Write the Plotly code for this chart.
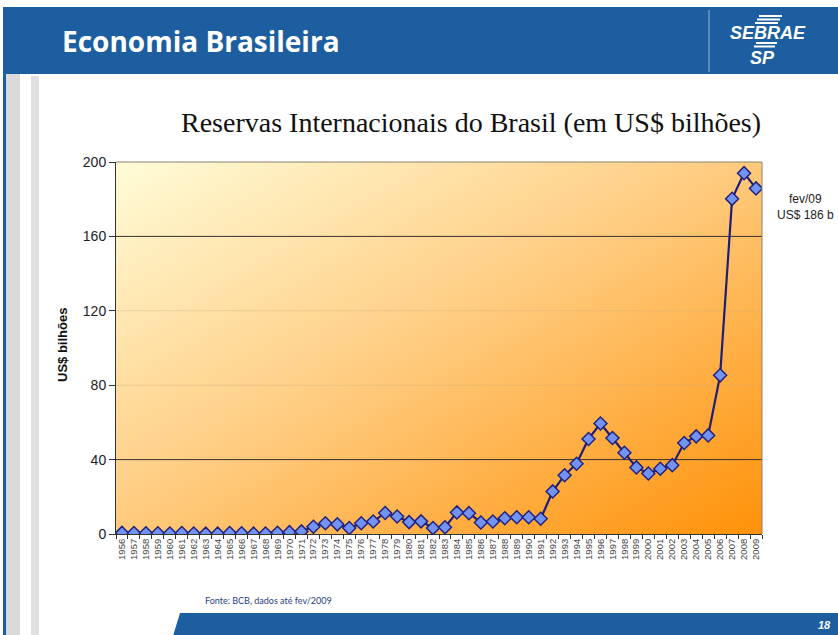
import base64
import plotly.graph_objects as go

# ---------------- data ----------------
years = ["1956", "1957", "1958", "1959", "1960", "1961", "1962", "1963", "1964",
         "1965", "1966", "1967", "1968", "1969", "1970", "1971", "1972", "1973",
         "1974", "1975", "1976", "1977", "1978", "1979", "1980", "1981", "1982",
         "1983", "1984", "1985", "1986", "1987", "1988", "1989", "1990", "1991",
         "1992", "1993", "1994", "1995", "1996", "1997", "1998", "1999", "2000",
         "2001", "2002", "2003", "2004", "2005", "2006", "2007", "2008", "2009"]
reserves = [0.6, 0.5, 0.4, 0.4, 0.3, 0.5, 0.3, 0.2, 0.2,
            0.5, 0.4, 0.2, 0.3, 0.7, 1.0, 1.4, 3.9, 5.8,
            5.2, 3.2, 5.8, 6.7, 11.3, 9.4, 6.4, 6.8, 3.2,
            3.6, 11.6, 11.2, 6.2, 6.7, 8.5, 9.0, 9.0, 8.2,
            22.9, 31.6, 37.8, 51.1, 59.4, 51.6, 43.7, 35.8, 32.5,
            35.1, 37.0, 48.9, 52.5, 53.0, 85.3, 180.2, 194.0, 185.8]
y_ticks = [0, 40, 80, 120, 160, 200]
grid_strong = [40, 160]
grid_faint = [80, 120]

title_text = "Reservas Internacionais do Brasil (em US$ bilhões)"
header_text = "Economia Brasileira"
note_text = "fev/09<br>US$ 186 b"
source_text = "Fonte: BCB, dados até fev/2009"
page_no = "18"

W, H = 838, 635
L, R, T, B = 116, 762, 162, 534


def X(px):
    return (px - L) / (R - L)


def Y(py):
    return (B - py) / (B - T)


BLUE = "#1C5E9F"

# gradient background for plot area (SVG data URI)
svg = (
    '<svg xmlns="http://www.w3.org/2000/svg" width="646" height="372" '
    'preserveAspectRatio="none" viewBox="0 0 646 372">'
    '<defs><linearGradient id="g" x1="0" y1="0" x2="1" y2="1">'
    '<stop offset="0" stop-color="#FFFCD8"/>'
    '<stop offset="0.45" stop-color="#FFCF86"/>'
    '<stop offset="1" stop-color="#FF9108"/>'
    '</linearGradient></defs>'
    '<rect width="646" height="372" fill="url(#g)"/></svg>'
)
svg_uri = "data:image/svg+xml;base64," + base64.b64encode(svg.encode()).decode()

fig = go.Figure()
fig.add_trace(go.Scatter(
    x=years, y=reserves, mode="lines+markers",
    line=dict(color="#1E1E78", width=2.2),
    marker=dict(symbol="diamond", size=10, color="#7393F2",
                line=dict(color="#22227E", width=1.5)),
    hoverinfo="x+y", showlegend=False,
))

shapes = []
# gridlines
for g in grid_strong:
    shapes.append(dict(type="line", xref="paper", yref="y", x0=0, x1=1, y0=g, y1=g,
                       line=dict(color="#3A3030", width=1), layer="below"))
for g in grid_faint:
    shapes.append(dict(type="line", xref="paper", yref="y", x0=0, x1=1, y0=g, y1=g,
                       line=dict(color="rgba(200,170,120,0.35)", width=1), layer="below"))

# header band
shapes.append(dict(type="rect", xref="paper", yref="paper", x0=X(3), x1=X(838),
                   y0=Y(74), y1=Y(7), fillcolor=BLUE, line=dict(width=0), layer="above"))
# left decorative bars
shapes.append(dict(type="rect", xref="paper", yref="paper", x0=X(3), x1=X(6),
                   y0=Y(635), y1=Y(74), fillcolor=BLUE, line=dict(width=0)))
shapes.append(dict(type="rect", xref="paper", yref="paper", x0=X(6), x1=X(20),
                   y0=Y(635), y1=Y(74), fillcolor="#DADADA", line=dict(width=0)))
shapes.append(dict(type="rect", xref="paper", yref="paper", x0=X(31), x1=X(39),
                   y0=Y(635), y1=Y(76), fillcolor="#E0E0E0", line=dict(width=0)))
# header separator
shapes.append(dict(type="line", xref="paper", yref="paper", x0=X(709), x1=X(709),
                   y0=Y(72), y1=Y(10), line=dict(color="rgba(255,255,255,0.55)", width=1)))
# logo bars
for py, a, b in [(16, 759, 782), (19.5, 757, 780), (23, 755, 778),
                 (43, 756, 777), (46.5, 754, 775)]:
    shapes.append(dict(type="line", xref="paper", yref="paper", x0=X(a), x1=X(b),
                       y0=Y(py), y1=Y(py), line=dict(color="white", width=2)))
# footer band
shapes.append(dict(type="path", xref="paper", yref="paper",
                   path=f"M {X(173)},{Y(636)} L {X(180)},{Y(613)} L {X(839)},{Y(613)} "
                        f"L {X(839)},{Y(636)} Z",
                   fillcolor=BLUE, line=dict(width=0)))

annotations = [
    dict(text=header_text, xref="paper", yref="paper", x=X(60), y=Y(41),
         xanchor="left", yanchor="middle", showarrow=False,
         font=dict(family="Open Sans", size=28, color="white", weight="bold")),
    dict(text="<i><b>SEBRAE</b></i>", xref="paper", yref="paper", x=X(768), y=Y(33),
         xanchor="center", yanchor="middle", showarrow=False,
         font=dict(family="Liberation Sans", size=18, color="white")),
    dict(text="<i><b>SP</b></i>", xref="paper", yref="paper", x=X(762), y=Y(58),
         xanchor="center", yanchor="middle", showarrow=False,
         font=dict(family="Liberation Sans", size=18, color="white")),
    dict(text=title_text, xref="paper", yref="paper", x=X(471), y=Y(122),
         xanchor="center", yanchor="middle", showarrow=False,
         font=dict(family="Liberation Serif", size=28, color="#111111")),
    dict(text="<b>US$ bilhões</b>", xref="paper", yref="paper", x=X(62), y=Y(345),
         xanchor="center", yanchor="middle", textangle=-90, showarrow=False,
         font=dict(family="Liberation Sans", size=13, color="#111111")),
    dict(text=note_text, xref="paper", yref="paper", x=X(806), y=Y(207),
         xanchor="center", yanchor="middle", showarrow=False, align="center",
         font=dict(family="Liberation Sans", size=12, color="#222222")),
    dict(text=source_text, xref="paper", yref="paper", x=X(268), y=Y(600),
         xanchor="center", yanchor="middle", showarrow=False,
         font=dict(family="Lato", size=9, color="#1F3F80")),
    dict(text="<i><b>" + page_no + "</b></i>", xref="paper", yref="paper", x=X(824), y=Y(625),
         xanchor="center", yanchor="middle", showarrow=False,
         font=dict(family="Liberation Sans", size=11, color="white")),
]

fig.update_layout(
    width=W, height=H,
    margin=dict(l=L, r=W - R, t=T, b=H - B, pad=0),
    paper_bgcolor="white",
    plot_bgcolor="rgba(0,0,0,0)",
    images=[dict(source=svg_uri, xref="paper", yref="paper", x=0, y=1,
                 sizex=1, sizey=1, sizing="stretch", xanchor="left", yanchor="top",
                 layer="below")],
    shapes=shapes,
    annotations=annotations,
    xaxis=dict(type="category", categoryorder="array", categoryarray=years,
               range=[-0.5, len(years) - 0.5], tickangle=-90,
               tickfont=dict(family="Liberation Sans", size=9.5, color="#444444"),
               ticks="outside", ticklen=4, tickcolor="#333333", tickson="boundaries",
               showgrid=False, showline=True, linecolor="#333333", linewidth=1,
               mirror=False, zeroline=False),
    yaxis=dict(range=[0, 200], tickvals=y_ticks,
               tickfont=dict(family="Liberation Sans", size=14, color="#222222"),
               ticks="outside", ticklen=6, tickcolor="#333333",
               showgrid=False, showline=True, linecolor="#333333", linewidth=1,
               zeroline=False),
    font=dict(family="Liberation Sans"),
)
# top / right plot border
fig.add_shape(type="line", xref="paper", yref="paper", x0=0, x1=1, y0=1, y1=1,
              line=dict(color="#8A8070", width=1))
fig.add_shape(type="line", xref="paper", yref="paper", x0=1, x1=1, y0=0, y1=1,
              line=dict(color="#8A8070", width=1))

fig.write_html("out.html")
